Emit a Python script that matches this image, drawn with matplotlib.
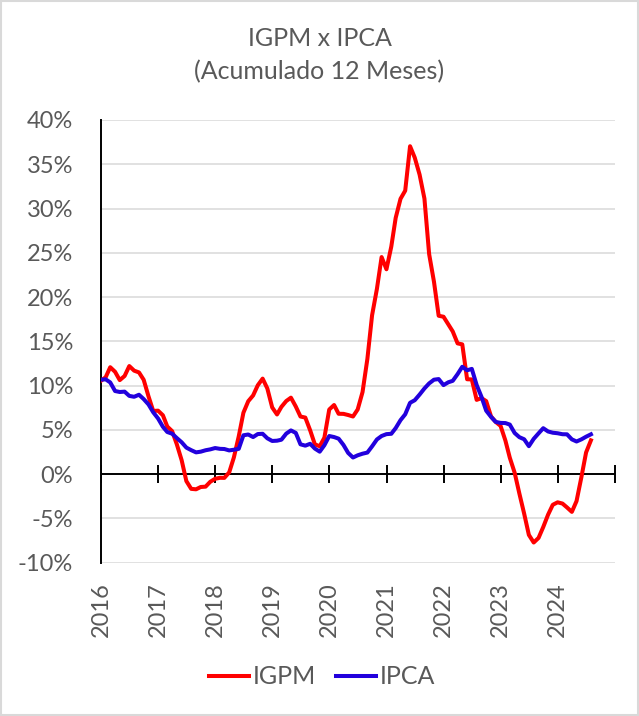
import pandas as pd
import numpy as np
import matplotlib
matplotlib.use('Agg')
import matplotlib.pyplot as plt
from matplotlib.patches import Rectangle

plt.rcParams['font.family'] = ['Lato', 'DejaVu Sans']

# Data: 12-month accumulated, Dec/2015 .. Jul/2024 (month-end)
datas = pd.date_range('2015-12-31', periods=104, freq='ME')

igpm = [10.54,
        10.95, 12.08, 11.56, 10.62, 11.09, 12.21, 11.69, 11.49, 10.66, 8.78, 7.14, 7.17,
        6.65, 5.38, 4.86, 3.37, 1.57, -0.78, -1.66, -1.71, -1.45, -1.41, -0.86, -0.52,
        -0.41, -0.42, 0.20, 1.89, 4.26, 6.94, 8.24, 8.89, 10.04, 10.79, 9.68, 7.54,
        6.74, 7.60, 8.26, 8.64, 7.64, 6.51, 6.39, 4.95, 3.37, 3.15, 4.12, 7.30,
        7.81, 6.82, 6.81, 6.68, 6.51, 7.31, 9.27, 13.02, 17.94, 20.93, 24.52, 23.14,
        25.71, 28.94, 31.10, 32.02, 37.04, 35.75, 33.83, 31.12, 24.86, 21.73, 17.89, 17.78,
        16.91, 16.12, 14.77, 14.66, 10.72, 10.70, 8.39, 8.59, 8.25, 6.52, 5.90, 5.45,
        3.79, 1.86, 0.17, -2.17, -4.47, -6.86, -7.72, -7.20, -5.97, -4.57, -3.46, -3.18,
        -3.32, -3.76, -4.26, -3.04, -0.34, 2.45, 3.82]

ipca = [10.67,
        10.71, 10.36, 9.39, 9.28, 9.32, 8.84, 8.74, 8.97, 8.48, 7.87, 6.99, 6.29,
        5.35, 4.76, 4.57, 4.08, 3.60, 3.00, 2.71, 2.46, 2.54, 2.70, 2.80, 2.95,
        2.86, 2.84, 2.68, 2.76, 2.86, 4.39, 4.48, 4.19, 4.53, 4.56, 4.05, 3.75,
        3.78, 3.89, 4.58, 4.94, 4.66, 3.37, 3.22, 3.43, 2.89, 2.54, 3.27, 4.31,
        4.19, 4.01, 3.30, 2.40, 1.88, 2.13, 2.31, 2.44, 3.14, 3.92, 4.31, 4.52,
        4.56, 5.20, 6.10, 6.76, 8.06, 8.35, 8.99, 9.68, 10.25, 10.67, 10.74, 10.06,
        10.38, 10.54, 11.30, 12.13, 11.73, 11.89, 10.07, 8.73, 7.17, 6.47, 5.90, 5.79,
        5.77, 5.60, 4.65, 4.18, 3.94, 3.16, 3.99, 4.61, 5.19, 4.82, 4.68, 4.62,
        4.51, 4.50, 3.93, 3.69, 3.93, 4.23, 4.50]

anos = list(range(2016, 2026))
yticks = list(range(-10, 45, 5))

cinza = '#595959'

fig = plt.figure(figsize=(6.39, 7.16), dpi=100)
ax = fig.add_axes([101/639, 1 - 562.7/716, (615-101)/639, (562.7-120)/716])

# grid + zero axis
ax.set_ylim(-10, 40)
ax.set_yticks(yticks)
ax.set_yticklabels([f'{v}%' for v in yticks])
ax.yaxis.grid(True, color='#d9d9d9', lw=1.1)
ax.set_axisbelow(True)

tick_dates = [pd.Timestamp(f'{a}-01-01') for a in anos]
ax.set_xlim(tick_dates[0], tick_dates[-1])
ax.set_xticks(tick_dates[:-1])
ax.set_xticklabels([str(a) for a in anos[:-1]], rotation=90)
ax.axhline(0, color='black', lw=1.4, zorder=1.5)
ax.plot(tick_dates, [0]*len(tick_dates), ls='none', marker='|', ms=13,
        mew=1.4, color='black', zorder=1.5)

ax.plot(datas, igpm, color='#ff0000', lw=2.9, label='IGPM', zorder=3)
ax.plot(datas, ipca, color='#2200dd', lw=2.9, label='IPCA', zorder=3)

for s in ['top', 'right', 'bottom']:
    ax.spines[s].set_visible(False)
ax.spines['left'].set_color('black')
ax.spines['left'].set_linewidth(1.4)
ax.tick_params(axis='y', length=0, pad=20, labelsize=17, labelcolor=cinza)
ax.tick_params(axis='x', length=0, pad=14, labelsize=17, labelcolor=cinza)

fig.text(0.5, 1 - 38/716, 'IGPM x IPCA', ha='center', va='center',
         fontsize=18, color=cinza)
fig.text(0.5, 1 - 72/716, '(Acumulado 12 Meses)', ha='center', va='center',
         fontsize=18, color=cinza)

fig.legend(loc='center', bbox_to_anchor=(322/639, 1 - 677/716), ncol=2,
           frameon=False, fontsize=18, labelcolor=cinza, handlelength=1.6,
           handletextpad=0.15, columnspacing=0.8)

fig.patches.append(Rectangle((0.001, 0.001), 0.998, 0.998, transform=fig.transFigure,
                             fill=False, edgecolor='#d9d9d9', lw=1.5))

plt.savefig('out.png', dpi=100)
